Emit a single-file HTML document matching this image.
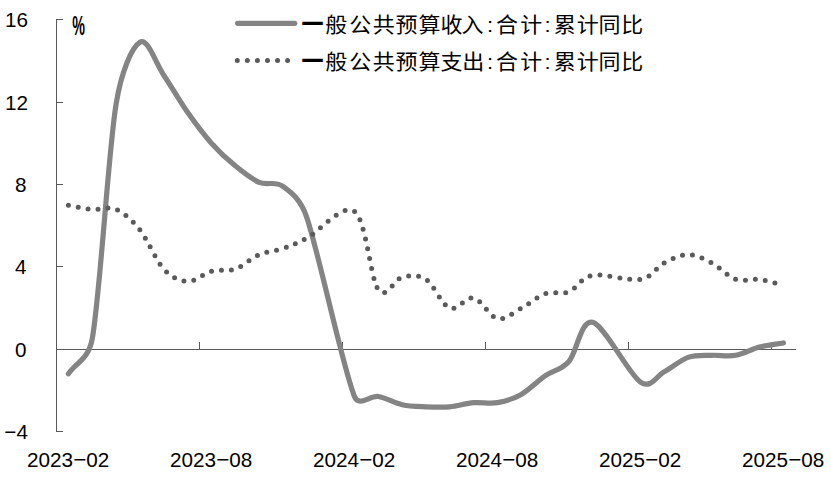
<!DOCTYPE html>
<html lang="zh"><head><meta charset="utf-8"><title>chart</title>
<style>html,body{margin:0;padding:0;background:#fff;overflow:hidden}svg{display:block}text{font-family:"Liberation Sans","Noto Sans CJK SC",sans-serif;fill:#000}</style></head><body>
<svg width="831" height="478" viewBox="0 0 831 478">
<rect width="831" height="478" fill="#fff"/>
<g fill="#595959" shape-rendering="crispEdges">
<rect x="56" y="19" width="1" height="413"/>
<rect x="57" y="19" width="6" height="1"/>
<rect x="57" y="102" width="6" height="1"/>
<rect x="57" y="184" width="6" height="1"/>
<rect x="57" y="266" width="6" height="1"/>
<rect x="57" y="431" width="6" height="1"/>
<rect x="57" y="349" width="739" height="1"/>
<rect x="199" y="342" width="1" height="7"/>
<rect x="342" y="342" width="1" height="7"/>
<rect x="485" y="342" width="1" height="7"/>
<rect x="628" y="342" width="1" height="7"/>
<rect x="771" y="342" width="1" height="7"/>
</g>
<g font-size="20.7" text-anchor="end">
<text x="27.9" y="27.1">16</text>
<text x="27.9" y="109.5">12</text>
<text x="26.6" y="191.9">8</text>
<text x="26.6" y="274.2">4</text>
<text x="26.6" y="356.6">0</text>
<text x="27.9" y="439.0">−4</text>
</g>
<g font-size="20.7" text-anchor="middle">
<text x="68.2" y="467.2">2023<tspan font-size="22.5" dy="-0.7">−</tspan><tspan dy="0.7">02</tspan></text>
<text x="211.2" y="467.2">2023<tspan font-size="22.5" dy="-0.7">−</tspan><tspan dy="0.7">08</tspan></text>
<text x="354.2" y="467.2">2024<tspan font-size="22.5" dy="-0.7">−</tspan><tspan dy="0.7">02</tspan></text>
<text x="497.2" y="467.2">2024<tspan font-size="22.5" dy="-0.7">−</tspan><tspan dy="0.7">08</tspan></text>
<text x="640.2" y="467.2">2025<tspan font-size="22.5" dy="-0.7">−</tspan><tspan dy="0.7">02</tspan></text>
<text x="783.2" y="467.2">2025<tspan font-size="22.5" dy="-0.7">−</tspan><tspan dy="0.7">08</tspan></text>
</g>
<text transform="translate(72.2,35.2) scale(0.53,1)" font-size="27" font-weight="700">%</text>
<path d="M68.42 373.83 C76.36 362.16 88.57 359.68 92.25 338.82 C100.19 293.86 108.14 153.47 116.08 104.04 C121.34 71.35 131.97 47.06 139.92 42.25 C147.86 37.45 155.81 63.54 163.75 75.21 C171.69 86.88 179.64 100.95 187.58 112.28 C195.53 123.60 203.47 134.25 211.42 143.17 C219.36 152.09 227.31 159.30 235.25 165.82 C243.19 172.35 251.14 178.87 259.08 182.30 C267.03 185.73 274.97 180.58 282.92 186.42 C290.86 192.25 300.46 198.84 306.75 217.31 C318.67 252.32 342.50 366.63 354.42 396.49 C358.83 407.56 370.31 395.12 378.25 396.49 C386.19 397.86 394.14 403.01 402.08 404.73 C410.03 406.44 417.97 406.44 425.92 406.79 C433.86 407.13 441.81 407.47 449.75 406.79 C457.69 406.10 465.64 403.35 473.58 402.67 C481.53 401.98 489.47 404.04 497.42 402.67 C505.36 401.29 513.31 398.89 521.25 394.43 C529.19 389.97 537.14 381.39 545.08 375.89 C553.03 370.40 560.97 370.40 568.92 361.48 C576.86 352.55 580.83 318.91 592.75 322.35 C604.67 325.78 628.50 373.83 640.42 382.07 C651.09 389.45 656.31 375.89 664.25 371.77 C672.19 367.66 680.14 360.10 688.08 357.36 C696.03 354.61 703.97 355.64 711.92 355.30 C719.86 354.96 727.81 356.67 735.75 355.30 C743.69 353.93 751.64 349.12 759.58 347.06 C767.53 345.00 775.47 344.31 783.42 342.94" fill="none" stroke="#848484" stroke-width="5.2" stroke-linecap="round" stroke-linejoin="round"/>
<path d="M68.42 204.95 C76.36 206.33 84.31 208.39 92.25 209.07 C100.19 209.76 108.14 205.64 116.08 209.07 C124.03 212.51 131.97 219.71 139.92 229.67 C147.86 239.62 155.81 260.22 163.75 268.80 C171.69 277.38 179.64 280.81 187.58 281.16 C195.53 281.50 203.47 272.92 211.42 270.86 C219.36 268.80 227.31 271.55 235.25 268.80 C243.19 266.05 251.14 257.82 259.08 254.38 C267.03 250.95 274.97 250.95 282.92 248.20 C290.86 245.46 295.23 243.88 306.75 237.91 C318.67 231.73 342.50 202.55 354.42 211.13 C366.33 219.71 370.31 278.41 378.25 289.39 C386.12 300.27 394.14 278.75 402.08 277.04 C410.03 275.32 417.97 273.95 425.92 279.10 C433.86 284.25 441.81 304.84 449.75 307.93 C457.69 311.02 465.64 295.92 473.58 297.63 C481.53 299.35 489.47 316.51 497.42 318.23 C505.36 319.94 513.31 312.05 521.25 307.93 C529.19 303.81 537.14 296.26 545.08 293.51 C553.03 290.77 560.97 294.54 568.92 291.45 C576.86 288.36 580.83 277.04 592.75 274.98 C604.67 272.92 628.50 281.16 640.42 279.10 C652.33 277.04 656.31 266.74 664.25 262.62 C672.19 258.50 680.14 254.38 688.08 254.38 C696.03 254.38 703.97 258.50 711.92 262.62 C719.86 266.74 727.81 276.35 735.75 279.10 C743.69 281.84 751.64 278.07 759.58 279.10 C767.53 280.13 775.47 283.22 783.42 285.28" fill="none" stroke="#5a5a5a" stroke-width="5.0" stroke-linecap="round" stroke-linejoin="round" stroke-dasharray="0 9.985" transform="translate(0,0.3)"/>
<line x1="237.6" y1="23.35" x2="294.8" y2="23.35" stroke="#848484" stroke-width="5.1" stroke-linecap="round"/>
<line x1="237.3" y1="60.6" x2="290" y2="60.6" stroke="#5a5a5a" stroke-width="5.0" stroke-linecap="round" stroke-dasharray="0 10.06"/>
<text transform="scale(1,0.95)" x="301.48 325.38 349.35 372.85 395.52 418.43 440.43 461.43 486.98 496.07 520.20 544.48 553.65 576.80 598.48 621.33" y="33.68" font-size="22" font-weight="400"><tspan font-weight="900" dy="-0.6">一</tspan><tspan dy="0.6">般公共预算收入:合计:累计同比</tspan></text>
<text transform="scale(1,0.95)" x="301.48 325.38 349.35 372.85 395.52 418.43 440.47 462.20 486.98 496.07 520.20 544.48 553.65 576.80 598.48 621.33" y="72.63" font-size="22" font-weight="400"><tspan font-weight="900" dy="-0.6">一</tspan><tspan dy="0.6">般公共预算支出:合计:累计同比</tspan></text>
</svg></body></html>
